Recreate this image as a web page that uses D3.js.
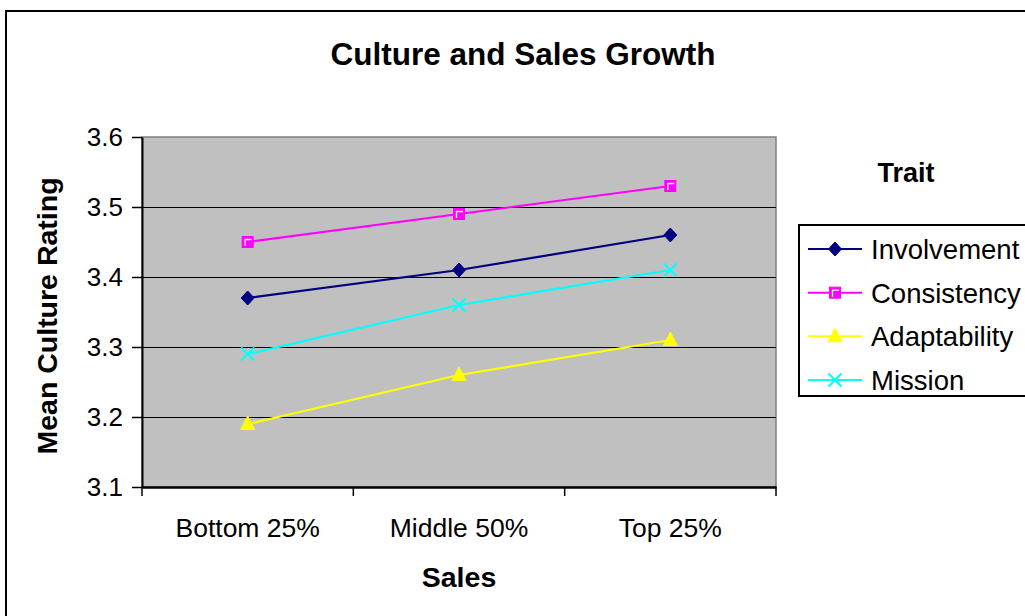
<!DOCTYPE html>
<html>
<head>
<meta charset="utf-8">
<script src="https://cdn.jsdelivr.net/npm/d3@7"></script>
<style>
  body { margin: 0; background: #fff; }
  text { font-family: "Liberation Sans", Arial, sans-serif; fill: #000; }
</style>
</head>
<body>
<svg id="chart" width="1025" height="616"></svg>
<script>
// data
var categories = ["Bottom 25%", "Middle 50%", "Top 25%"]
var seriesNames = ["Involvement", "Consistency", "Adaptability", "Mission"]
var involvement = [3.37, 3.41, 3.46]
var consistency = [3.45, 3.49, 3.53]
var adaptability = [3.19, 3.26, 3.31]
var mission = [3.29, 3.36, 3.41]
var yTicks = [3.1, 3.2, 3.3, 3.4, 3.5, 3.6]

var colors = ["#000080", "#FF00FF", "#FFFF00", "#00FFFF"]
var markers = ["diamond", "square", "triangle", "cross"]
var allValues = [involvement, consistency, adaptability, mission]

var plot = { left: 142, top: 137, right: 776, bottom: 487 }
var fontFamily = "'Liberation Sans', Arial, sans-serif"

var svg = d3.select("#chart")

// outer frame (right and bottom edges fall outside the picture)
svg.append("rect")
  .attr("x", 6).attr("y", 11)
  .attr("width", 1040).attr("height", 620)
  .attr("fill", "none").attr("stroke", "#000").attr("stroke-width", 2)

var xScale = d3.scaleBand()
  .domain(categories)
  .range([plot.left, plot.right])

var yScale = d3.scaleLinear()
  .domain([3.1, 3.6])
  .range([plot.bottom, plot.top])

// plot area
svg.append("rect")
  .attr("x", plot.left).attr("y", plot.top)
  .attr("width", plot.right - plot.left).attr("height", plot.bottom - plot.top)
  .attr("fill", "#C0C0C0")
  .attr("stroke", "#808080").attr("stroke-width", 1.5)

// gridlines
svg.append("g").selectAll("line")
  .data(yTicks.slice(1, -1))
  .enter()
  .append("line")
    .attr("x1", plot.left).attr("x2", plot.right)
    .attr("y1", function(d){ return Math.round(yScale(d)) + 0.5 })
    .attr("y2", function(d){ return Math.round(yScale(d)) + 0.5 })
    .attr("stroke", "#000").attr("stroke-width", 1)

// y axis
var yAxis = d3.axisLeft(yScale)
  .tickValues(yTicks)
  .tickFormat(d3.format(".1f"))
  .tickSizeInner(10)
  .tickSizeOuter(0)
  .tickPadding(9)

var gy = svg.append("g")
  .attr("transform", "translate(" + plot.left + ",0)")
  .call(yAxis)
gy.select(".domain").attr("stroke", "#000").attr("stroke-width", 2)
gy.selectAll(".tick line").attr("stroke", "#000").attr("stroke-width", 1.5)
gy.selectAll(".tick text")
  .style("font-size", "26px")
  .style("font-family", fontFamily)
  .attr("fill", "#000")

// x axis: labels centred in bands, tick marks at band edges
var xAxis = d3.axisBottom(xScale)
  .tickSize(0)
  .tickPadding(0)
var gx = svg.append("g")
  .attr("transform", "translate(0," + plot.bottom + ")")
  .call(xAxis)
gx.select(".domain").attr("stroke", "#000").attr("stroke-width", 2.5)
gx.selectAll(".tick text")
  .attr("y", 50).attr("dy", 0)
  .style("font-size", "26.5px")
  .style("font-family", fontFamily)
  .attr("fill", "#000")

var edges = categories.map(function(c){ return xScale(c) }).concat([plot.right])
svg.append("g").selectAll("line")
  .data(edges)
  .enter()
  .append("line")
    .attr("x1", function(d){ return d }).attr("x2", function(d){ return d })
    .attr("y1", plot.bottom).attr("y2", plot.bottom + 9)
    .attr("stroke", "#000").attr("stroke-width", 1.5)

// marker drawing
function drawMarker(g, type, color, cx, cy) {
  if (type == "diamond") {
    g.append("path")
      .attr("d", "M" + cx + "," + (cy - 7) + "L" + (cx + 6.5) + "," + cy + "L" + cx + "," + (cy + 7) + "L" + (cx - 6.5) + "," + cy + "Z")
      .attr("fill", color).attr("stroke", color)
  } else if (type == "square") {
    g.append("rect")
      .attr("x", cx - 5.5).attr("y", cy - 5.5).attr("width", 11).attr("height", 11)
      .attr("fill", color).attr("stroke", color).attr("stroke-width", 1)
    g.append("path")
      .attr("d", "M" + (cx - 2.5) + "," + (cy + 4) + "V" + (cy - 2.5) + "H" + (cx + 4))
      .attr("fill", "none").attr("stroke", "#fff").attr("stroke-width", 1.3)
  } else if (type == "triangle") {
    g.append("path")
      .attr("d", "M" + cx + "," + (cy - 8) + "L" + (cx + 7) + "," + (cy + 5.5) + "L" + (cx - 7) + "," + (cy + 5.5) + "Z")
      .attr("fill", color).attr("stroke", color)
  } else {
    g.append("path")
      .attr("d", "M" + (cx - 6.5) + "," + (cy - 6.5) + "L" + (cx + 6.5) + "," + (cy + 6.5) + "M" + (cx + 6.5) + "," + (cy - 6.5) + "L" + (cx - 6.5) + "," + (cy + 6.5))
      .attr("fill", "none").attr("stroke", color).attr("stroke-width", 2)
  }
}

var line = d3.line()
  .x(function(d, i){ return xScale(categories[i]) + xScale.bandwidth() / 2 })
  .y(function(d){ return yScale(d) })

allValues.forEach(function(values, s){
  var g = svg.append("g")
  g.append("path")
    .datum(values)
    .attr("d", line)
    .attr("fill", "none")
    .attr("stroke", colors[s])
    .attr("stroke-width", 2.2)
  values.forEach(function(v, i){
    drawMarker(g, markers[s], colors[s], xScale(categories[i]) + xScale.bandwidth() / 2, yScale(v))
  })
})

// titles
svg.append("text")
  .attr("x", 523).attr("y", 65)
  .attr("text-anchor", "middle")
  .style("font-size", "31.5px").attr("font-weight", "bold")
  .text("Culture and Sales Growth")

svg.append("text")
  .attr("x", (plot.left + plot.right) / 2).attr("y", 587)
  .attr("text-anchor", "middle")
  .style("font-size", "28.5px").attr("font-weight", "bold")
  .text("Sales")

svg.append("text")
  .attr("transform", "translate(57," + ((plot.top + plot.bottom) / 2 + 4) + ") rotate(-90)")
  .attr("text-anchor", "middle")
  .style("font-size", "28.5px").attr("font-weight", "bold")
  .text("Mean Culture Rating")

// legend
svg.append("text")
  .attr("x", 906).attr("y", 182)
  .attr("text-anchor", "middle")
  .style("font-size", "27px").attr("font-weight", "bold")
  .text("Trait")

svg.append("rect")
  .attr("x", 799).attr("y", 225)
  .attr("width", 240).attr("height", 171)
  .attr("fill", "#fff").attr("stroke", "#000").attr("stroke-width", 2)

var legendY = d3.scalePoint()
  .domain(seriesNames)
  .range([249, 380])

seriesNames.forEach(function(name, s){
  var y = legendY(name)
  var g = svg.append("g")
  g.append("line")
    .attr("x1", 808).attr("x2", 862)
    .attr("y1", y).attr("y2", y)
    .attr("stroke", colors[s]).attr("stroke-width", 2)
  drawMarker(g, markers[s], colors[s], 835, y)
  g.append("text")
    .attr("x", 871).attr("y", y + 10)
    .style("font-size", "27.5px")
    .text(name)
})
</script>
</body>
</html>
